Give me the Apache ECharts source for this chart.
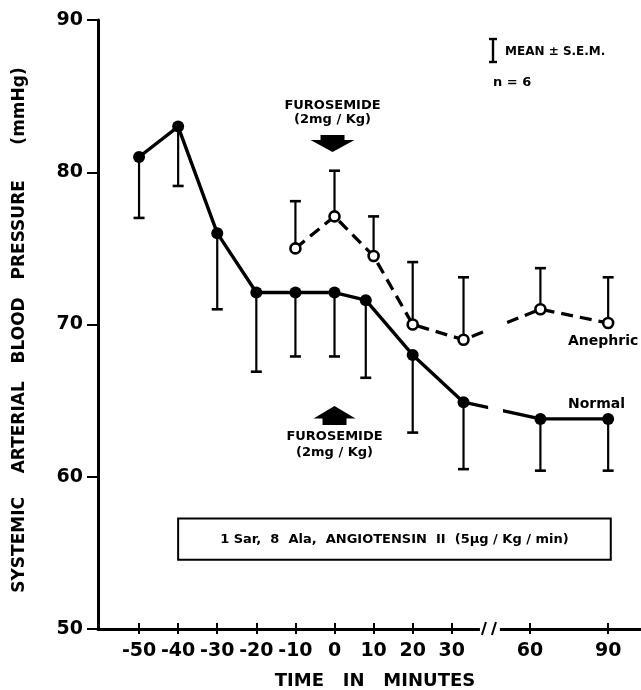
<!DOCTYPE html>
<html><head><meta charset="utf-8">
<script src="https://cdn.jsdelivr.net/npm/echarts@6/dist/echarts.min.js"></script>
<style>html,body{margin:0;padding:0;background:#fff}#c{width:641px;height:690px}</style>
</head><body><div id="c"></div><script>
// ---- data ----
const timeTicks = [-50, -40, -30, -20, -10, 0, 10, 20, 30, 60, 90];
const normalTime = [-50, -40, -30, -20, -10, 0, 8, 20, 33, 64, 90];
const normalMean = [81.0, 83.0, 76.0, 72.1, 72.1, 72.1, 71.6, 68.0, 64.9, 63.8, 63.8];
const normalLow  = [77.0, 79.1, 71.0, 66.9, 67.9, 67.9, 66.5, 62.9, 60.5, 60.4, 60.4];
const anephricTime = [-10, 0, 10, 20, 33, 64, 90];
const anephricMean = [75.0, 77.1, 74.5, 70.0, 69.0, 71.0, 70.1];
const anephricHigh = [78.1, 80.1, 77.1, 74.1, 73.1, 73.7, 73.1];
const infusionStart = -40, infusionEnd = 91;
const furosemideTime = 0;

// broken time axis: 10 min per unit up to the break, 15 min per unit after it
function pos(t) { return t <= 40 ? (t + 50) / 10 : 10 + (t - 60) / 15; }
const tickPos = timeTicks.map(pos);
function labelFor(u) {
  let best = 0;
  tickPos.forEach((p, i) => { if (Math.abs(p - u) < Math.abs(tickPos[best] - u)) best = i; });
  return String(timeTicks[best]);
}

const FONT = 'DejaVu Sans';
const chart = echarts.init(document.getElementById('c'), null, {renderer: 'canvas'});

function errItem(params, api) {
  const p = api.coord([api.value(0), api.value(1)]);
  const e = api.coord([api.value(0), api.value(2)]);
  return {type: 'group', children: [
    {type: 'line', shape: {x1: p[0], y1: p[1], x2: e[0], y2: e[1]}, style: {stroke: '#000', lineWidth: 2.2}},
    {type: 'line', shape: {x1: e[0] - 5.5, y1: e[1], x2: e[0] + 5.5, y2: e[1]}, style: {stroke: '#000', lineWidth: 2.6}}
  ]};
}

const xBase = {
  type: 'value', min: -1.05, max: 12.84,
  splitLine: {show: false}
};

chart.setOption({
  animation: false,
  backgroundColor: '#fff',
  grid: {left: 98, right: 0, top: 20, bottom: 61, containLabel: false},
  xAxis: [
    Object.assign({}, xBase, {
      axisLine: {onZero: false, lineStyle: {color: '#000', width: 3}},
      axisTick: {show: true, inside: false, length: 5, customValues: tickPos, lineStyle: {color: '#000', width: 2}},
      axisLabel: {customValues: tickPos, formatter: labelFor, color: '#000', fontFamily: FONT, fontSize: 19, fontWeight: 'bold', margin: 13}
    }),
    Object.assign({}, xBase, {
      position: 'bottom',
      axisLine: {show: false, onZero: false},
      axisTick: {show: true, inside: true, length: 6, customValues: tickPos, lineStyle: {color: '#000', width: 2}},
      axisLabel: {show: false}
    })
  ],
  yAxis: {
    type: 'value', min: 50, max: 90, interval: 10,
    splitLine: {show: false},
    axisLine: {show: true, onZero: false, lineStyle: {color: '#000', width: 3}},
    axisTick: {show: true, length: 11, lineStyle: {color: '#000', width: 2}},
    axisLabel: {color: '#000', fontFamily: FONT, fontSize: 19, fontWeight: 'bold', margin: 15}
  },
  series: [
    {
      name: 'Normal SEM', type: 'custom', renderItem: errItem, z: 2, clip: false,
      encode: {x: 0, y: [1, 2]},
      data: normalTime.map((t, i) => [pos(t), normalMean[i], normalLow[i]])
    },
    {
      name: 'Anephric SEM', type: 'custom', renderItem: errItem, z: 2, clip: false,
      encode: {x: 0, y: [1, 2]},
      data: anephricTime.map((t, i) => [pos(t), anephricMean[i], anephricHigh[i]])
    },
    {
      name: 'Normal', type: 'line', z: 4,
      data: normalTime.map((t, i) => [pos(t), normalMean[i]]),
      symbol: 'circle', symbolSize: 12,
      itemStyle: {color: '#000'},
      lineStyle: {color: '#000', width: 3.4},
      markArea: {
        silent: true,
        itemStyle: {color: 'rgba(0,0,0,0)', borderColor: '#000', borderWidth: 2},
        label: {show: true, position: 'inside', color: '#000', fontFamily: FONT, fontSize: 13, fontWeight: 'bold',
          formatter: '1 Sar,  8  Ala,  ANGIOTENSIN  II  (5µg / Kg / min)'},
        data: [[{coord: [pos(infusionStart), 57.25]}, {coord: [pos(infusionEnd), 54.55]}]]
      }
    },
    {
      name: 'Anephric', type: 'line', z: 4,
      data: anephricTime.map((t, i) => [pos(t), anephricMean[i]]),
      symbol: 'circle', symbolSize: 10,
      itemStyle: {color: '#fff', borderColor: '#000', borderWidth: 2.6},
      lineStyle: {color: '#000', width: 3.3, type: [12, 7]}
    }
  ]
});

// ---- annotations ----
const x0 = chart.convertToPixel({xAxisIndex: 0}, pos(furosemideTime)) - 2;
const gapL = chart.convertToPixel({xAxisIndex: 0}, 8.93);
const gapR = chart.convertToPixel({xAxisIndex: 0}, 9.31);
const axL = chart.convertToPixel({xAxisIndex: 0}, 8.72);
const axR = chart.convertToPixel({xAxisIndex: 0}, 9.23);
const yAx = chart.convertToPixel({yAxisIndex: 0}, 50);
const gTop = chart.convertToPixel({yAxisIndex: 0}, 72);
const gBot = chart.convertToPixel({yAxisIndex: 0}, 62);
const txt = (x, y, text, size, weight, align) => ({
  type: 'text', x: x, y: y, z: 100,
  style: {text: text, fill: '#000', font: (weight || 'normal') + ' ' + size + 'px "' + FONT + '"',
    textAlign: align || 'center', textVerticalAlign: 'middle'}
});
chart.setOption({
  graphic: [
    // break in the two curves
    {type: 'rect', z: 90, shape: {x: gapL, y: gTop, width: gapR - gapL, height: gBot - gTop}, style: {fill: '#fff'}},
    // break in the time axis
    {type: 'rect', z: 90, shape: {x: axL, y: yAx - 5, width: axR - axL, height: 10}, style: {fill: '#fff'}},
    {type: 'line', z: 91, shape: {x1: axL + 2, y1: yAx + 6, x2: axL + 6, y2: yAx - 7}, style: {stroke: '#000', lineWidth: 2}},
    {type: 'line', z: 91, shape: {x1: axL + 12, y1: yAx + 6, x2: axL + 16, y2: yAx - 7}, style: {stroke: '#000', lineWidth: 2}},
    // axis titles
    {type: 'text', x: 20, y: 330, rotation: Math.PI / 2, z: 100,
      style: {text: 'SYSTEMIC    ARTERIAL   BLOOD   PRESSURE      (mmHg)', fill: '#000',
        font: 'bold 17px "' + FONT + '"', textAlign: 'center', textVerticalAlign: 'middle'}},
    txt(375, 681, 'TIME   IN   MINUTES', 18, 'bold'),
    // legend
    {type: 'line', z: 100, shape: {x1: 493, y1: 39, x2: 493, y2: 62}, style: {stroke: '#000', lineWidth: 2.4}},
    {type: 'line', z: 100, shape: {x1: 489, y1: 39, x2: 497, y2: 39}, style: {stroke: '#000', lineWidth: 2.4}},
    {type: 'line', z: 100, shape: {x1: 489, y1: 62, x2: 497, y2: 62}, style: {stroke: '#000', lineWidth: 2.4}},
    txt(505, 52, 'MEAN ± S.E.M.', 12, 'bold', 'left'),
    txt(493, 83, 'n = 6', 13, 'bold', 'left'),
    // furosemide arrows
    txt(x0 + 0, 106, 'FUROSEMIDE', 13, 'bold'),
    txt(x0 + 0, 120, '(2mg / Kg)', 13, 'bold'),
    {type: 'polygon', z: 100, shape: {points: [[x0 - 12, 135], [x0 + 12, 135], [x0 + 12, 140], [x0 + 22, 140], [x0, 152], [x0 - 22, 140], [x0 - 12, 140]]}, style: {fill: '#000'}},
    {type: 'polygon', z: 100, shape: {points: [[x0 + 2, 406], [x0 + 23, 418.5], [x0 + 14, 418.5], [x0 + 14, 425], [x0 - 10, 425], [x0 - 10, 418.5], [x0 - 19, 418.5]]}, style: {fill: '#000'}},
    txt(x0 + 2, 437, 'FUROSEMIDE', 13, 'bold'),
    txt(x0 + 2, 453, '(2mg / Kg)', 13, 'bold'),
    // curve labels
    txt(568, 341, 'Anephric', 14, 'bold', 'left'),
    txt(568, 404, 'Normal', 14, 'bold', 'left')
  ]
});
</script></body></html>
